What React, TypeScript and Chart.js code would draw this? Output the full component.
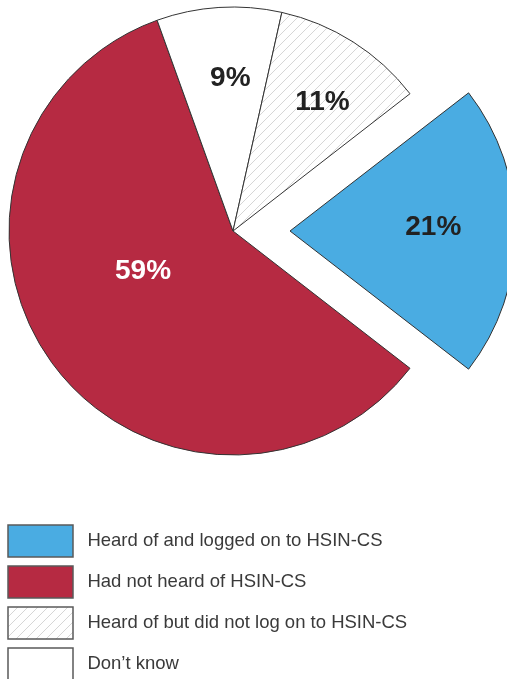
import React, { useEffect, useRef } from "react";
import { Chart, registerables } from "chart.js";

Chart.register(...registerables);

// Data (clockwise order in the pie)
const categories = [
  "Heard of and logged on to HSIN-CS",
  "Had not heard of HSIN-CS",
  "Don\u2019t know",
  "Heard of but did not log on to HSIN-CS",
];
const values = [21, 59, 9, 11];
const valueLabels = ["21%", "59%", "9%", "11%"];
const legendOrder = [0, 1, 3, 2];

// Styling
const colors = ["#4AACE2", "#B62A42", "#FFFFFF", "hatch"];
const labelColors = ["#222222", "#FFFFFF", "#222222", "#222222"];
const explode = [228, 0, 0, 0];
const labelRadiusFrac = [0.64, 0.44, 0.68, 0.7];
const labelAngleFrac = [0.48, 0.556, 0.58, 0.56];

function makeHatch(): CanvasPattern | string {
  const s = 10;
  const c = document.createElement("canvas");
  c.width = s;
  c.height = s;
  const g = c.getContext("2d");
  if (!g) return "#fff";
  g.fillStyle = "#ffffff";
  g.fillRect(0, 0, s, s);
  g.strokeStyle = "#d6d6d6";
  g.lineWidth = 1;
  g.beginPath();
  g.moveTo(0, s);
  g.lineTo(s, 0);
  g.moveTo(-2, 2);
  g.lineTo(2, -2);
  g.moveTo(s - 2, s + 2);
  g.lineTo(s + 2, s - 2);
  g.stroke();
  return g.createPattern(c, "repeat") || "#fff";
}

const labelPlugin = {
  id: "sliceLabels",
  afterDatasetsDraw(chart: any) {
    const ctx = chart.ctx;
    const meta = chart.getDatasetMeta(0);
    meta.data.forEach((arc: any, i: number) => {
      const p = arc.getProps(["x", "y", "startAngle", "endAngle", "outerRadius"], true);
      const half = (p.startAngle + p.endAngle) / 2;
      const tr = (arc.options.offset || 0) / 4;
      const ang = p.startAngle + (p.endAngle - p.startAngle) * labelAngleFrac[i];
      const r = p.outerRadius * labelRadiusFrac[i];
      const x = p.x + Math.cos(half) * tr + Math.cos(ang) * r;
      const y = p.y + Math.sin(half) * tr + Math.sin(ang) * r;
      ctx.save();
      ctx.font = "bold 28px 'Liberation Sans', Arial, sans-serif";
      ctx.fillStyle = labelColors[i];
      ctx.textAlign = "center";
      ctx.textBaseline = "middle";
      ctx.fillText(valueLabels[i], x, y);
      ctx.restore();
    });
  },
};

export default function App() {
  const ref = useRef<HTMLCanvasElement | null>(null);
  useEffect(() => {
    if (!ref.current) return;
    const hatch = makeHatch();
    const bg = colors.map((c) => (c === "hatch" ? hatch : c));
    const chart = new Chart(ref.current, {
      type: "pie",
      data: {
        labels: categories,
        datasets: [
          {
            data: values,
            backgroundColor: bg as any,
            borderColor: "#333333",
            borderWidth: 1,
            offset: explode,
            hoverOffset: 0,
          },
        ],
      },
      options: {
        animation: false,
        responsive: true,
        maintainAspectRatio: false,
        rotation: 52.2,
        radius: 224,
        layout: { padding: { left: 0, right: 40, top: 0, bottom: 0 } },
        events: [],
        plugins: {
          tooltip: { enabled: false },
          legend: {
            position: "bottom",
            align: "start",
            labels: {
              boxWidth: 65,
              boxHeight: 32,
              padding: 9,
              color: "#3a3a3a",
              font: { family: "'Liberation Sans', Arial, sans-serif", size: 18.5 },
              sort: (a: any, b: any) => legendOrder.indexOf(a.index) - legendOrder.indexOf(b.index),
              generateLabels: (ch: any) => {
                const base = (Chart as any).overrides.pie.plugins.legend.labels.generateLabels(ch);
                return base.map((it: any) => ({ ...it, text: " " + it.text, lineWidth: 1.5, strokeStyle: "#5a5a5a" }));
              },
            },
          },
        },
      } as any,
      plugins: [labelPlugin],
    });
    return () => chart.destroy();
  }, []);
  return (
    <div style={{ position: "absolute", left: -1, top: -54, width: 508, height: 744 }}>
      <canvas ref={ref} />
    </div>
  );
}
